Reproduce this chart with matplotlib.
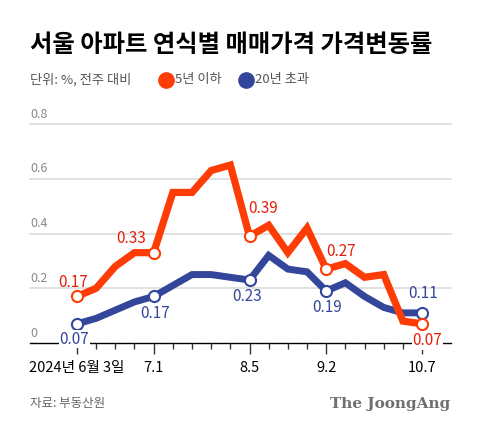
import numpy as np
import matplotlib.pyplot as plt
from matplotlib.lines import Line2D

plt.rcParams['font.family'] = ['Noto Sans CJK KR', 'DejaVu Sans']

# weekly, 2024-06-03 .. 2024-10-07
weeks = list(range(19))
tick_pos = [0, 4, 9, 13, 18]
tick_labels = ['2024년 6월 3일', '7.1', '8.5', '9.2', '10.7']

new_apt = [0.17, 0.20, 0.28, 0.33, 0.33, 0.55, 0.55, 0.63, 0.65, 0.39,
           0.43, 0.33, 0.42, 0.27, 0.29, 0.24, 0.25, 0.08, 0.07]
old_apt = [0.07, 0.09, 0.12, 0.15, 0.17, 0.21, 0.25, 0.25, 0.24, 0.23,
           0.32, 0.27, 0.26, 0.19, 0.22, 0.17, 0.13, 0.11, 0.11]

RED = '#fe3c06'
RED_TXT = '#e3200c'
BLUE = '#34469a'

fig = plt.figure(figsize=(4.8, 4.33), dpi=100)
ax = fig.add_axes([30 / 480, 1 - 343 / 433, 421 / 480, 219 / 433])

ax.set_xlim(-2.45, 19.51)
ax.set_ylim(0, 0.8)

for y in [0.2, 0.4, 0.6, 0.8]:
    ax.axhline(y, color='#dcdcdc', lw=1.2, zorder=0, clip_on=False)
for y in [0, 0.2, 0.4, 0.6, 0.8]:
    ax.text(0.0, y + 0.012, f'{y:g}', transform=ax.get_yaxis_transform(),
            ha='left', va='bottom', fontsize=9, color='#8a8a8a')

ax.plot(weeks, old_apt, color=BLUE, lw=5, solid_joinstyle='miter', zorder=3)
ax.plot(weeks, new_apt, color=RED, lw=5.2, solid_joinstyle='miter', zorder=4)
for series, col, z in [(old_apt, BLUE, 5), (new_apt, RED, 6)]:
    ax.plot(tick_pos, [series[i] for i in tick_pos], ls='none', marker='o',
            ms=8, mfc='white', mec=col, mew=1.5, zorder=z, clip_on=False)

# value labels (offsets in points)
red_off = {0: (-3, 10), 4: (-16, 10), 9: (10, 20), 13: (11, 13), 18: (4, -12)}
blue_off = {0: (-2, -11), 4: (1, -12), 9: (-2, -12), 13: (1, -12), 18: (1, 14)}
for i, (dx, dy) in red_off.items():
    ax.annotate(f'{new_apt[i]:.2f}', (i, new_apt[i]), xytext=(dx, dy),
                textcoords='offset points', ha='center', va='center',
                fontsize=11, color=RED_TXT, zorder=7,
                bbox=dict(fc='white', ec='none', pad=0.5) if i == 18 else None)
for i, (dx, dy) in blue_off.items():
    ax.annotate(f'{old_apt[i]:.2f}', (i, old_apt[i]), xytext=(dx, dy),
                textcoords='offset points', ha='center', va='center',
                fontsize=11, color=BLUE, zorder=7,
                bbox=dict(fc='white', ec='none', pad=0.5) if i == 0 else None)

for s in ['left', 'right', 'top']:
    ax.spines[s].set_visible(False)
ax.spines['bottom'].set_color('black')
ax.spines['bottom'].set_linewidth(1)
ax.spines['bottom'].set_zorder(1)

ax.set_yticks([])
ax.set_xticks(tick_pos)
ax.set_xticklabels(tick_labels, fontsize=10.5, color='black')
ax.set_xticks([w for w in weeks if w not in tick_pos], minor=True)
ax.tick_params(axis='x', which='major', length=8, width=1, color='#333333', pad=5)
ax.tick_params(axis='x', which='minor', length=4, width=1, color='#333333')

fig.text(30 / 480, 1 - 45 / 433, '서울 아파트 연식별 매매가격 가격변동률',
         fontsize=17.5, fontweight='bold', va='center', ha='left')
fig.text(30 / 480, 1 - 80 / 433, '단위: %, 전주 대비', fontsize=9.5,
         color='#555555', va='center', ha='left')
fig.add_artist(Line2D([165.5 / 480], [1 - 80 / 433], marker='o', ms=11,
                      color=RED, ls='none', transform=fig.transFigure))
fig.text(175 / 480, 1 - 80 / 433, '5년 이하', fontsize=9.5,
         color='#555555', va='center', ha='left')
fig.add_artist(Line2D([246 / 480], [1 - 80 / 433], marker='o', ms=11,
                      color=BLUE, ls='none', transform=fig.transFigure))
fig.text(255 / 480, 1 - 80 / 433, '20년 초과', fontsize=9.5,
         color='#555555', va='center', ha='left')

fig.text(30 / 480, 1 - 404 / 433, '자료: 부동산원', fontsize=9,
         color='#666666', va='center', ha='left')
fig.text(450 / 480, 1 - 404 / 433, 'The JoongAng', fontsize=11,
         family='DejaVu Serif', fontweight='bold', color='#6f6f6f',
         va='center', ha='right')

fig.savefig('out.png', dpi=100, facecolor='white')
